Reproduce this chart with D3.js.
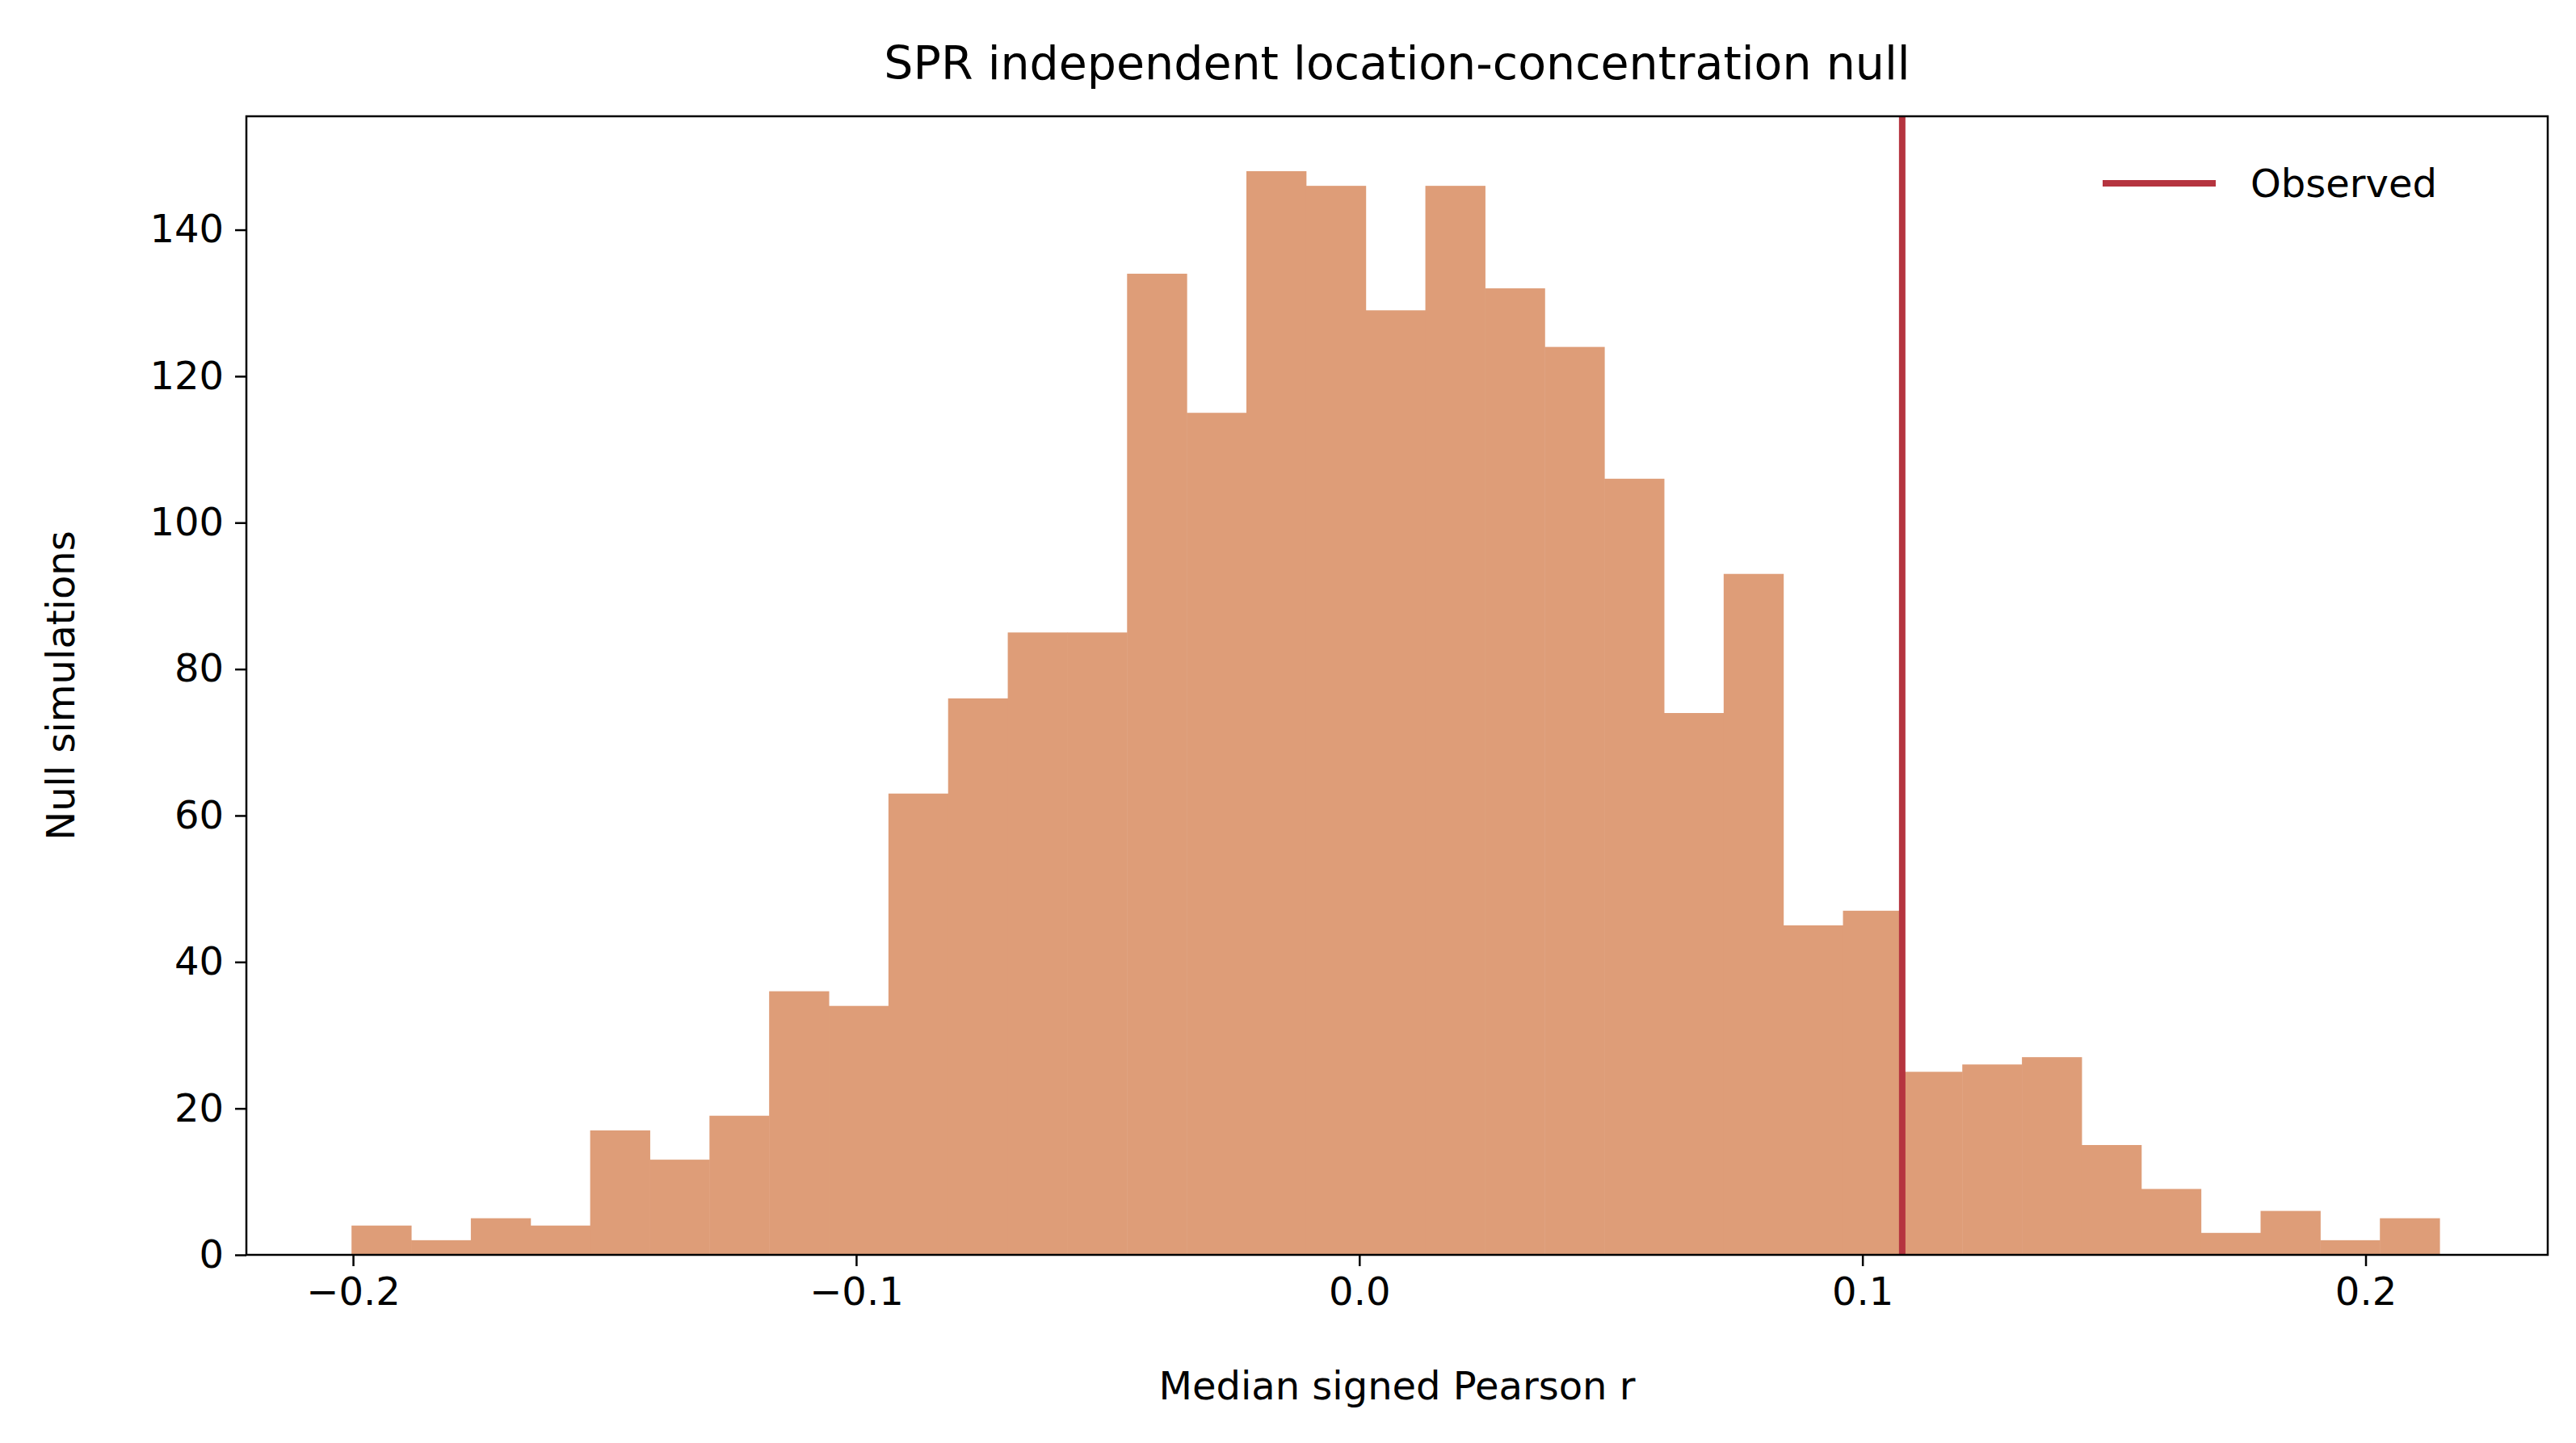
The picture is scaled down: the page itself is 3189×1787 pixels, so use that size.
<!DOCTYPE html>
<html><head><meta charset="utf-8">
<script src="https://cdn.jsdelivr.net/npm/d3@7"></script>
<style>body{margin:0;background:#fff}text{font-family:"DejaVu Sans",sans-serif;fill:#000}</style>
</head><body><div id="chart"></div>
<script>
// data
var counts = [4,2,5,4,17,13,19,36,34,63,76,85,85,134,115,148,146,129,146,132,124,106,74,93,45,47,25,26,27,15,9,3,6,2,5];
var binStart = -0.2003, binEnd = 0.2147;
var observed = 0.1079;
var xTicks = [-0.2, -0.1, 0.0, 0.1, 0.2];
var yTicks = [0, 20, 40, 60, 80, 100, 120, 140];

var W = 3189, H = 1787,
    m = { top: 144, right: 35, bottom: 233, left: 305 },
    width = W - m.left - m.right,
    height = H - m.top - m.bottom;

var svg = d3.select("#chart").append("svg").attr("width", W).attr("height", H);
var g = svg.append("g").attr("transform", "translate(" + m.left + "," + m.top + ")");

var x = d3.scaleLinear().domain([-0.2212, 0.2362]).range([0, width]);
var y = d3.scaleLinear().domain([0, 155.5]).range([height, 0]);
var bw = (binEnd - binStart) / counts.length;

g.selectAll("rect.bar").data(counts).enter().append("rect")
    .attr("class", "bar")
    .attr("x", function(d, i) { return x(binStart + i * bw); })
    .attr("width", function() { return x(binStart + bw) - x(binStart) + 0.5; })
    .attr("y", function(d) { return y(d); })
    .attr("height", function(d) { return height - y(d); })
    .attr("fill", "#de9d78");

g.append("line")
    .attr("x1", x(observed)).attr("x2", x(observed))
    .attr("y1", 0).attr("y2", height)
    .attr("stroke", "#b5343f").attr("stroke-width", 8);

var fmtX = function(d) { return d3.format(".1f")(d).replace("-", "\u2212"); };
var xAxis = g.append("g").attr("transform", "translate(0," + height + ")")
    .call(d3.axisBottom(x).tickValues(xTicks).tickFormat(fmtX).tickSize(14).tickPadding(14));
var yAxis = g.append("g")
    .call(d3.axisLeft(y).tickValues(yTicks).tickSize(14).tickPadding(14));
[xAxis, yAxis].forEach(function(a) {
    a.selectAll("text").style("font-size", "48px").style("font-family", "DejaVu Sans");
    a.selectAll("line").attr("stroke-width", 2.5);
    a.select(".domain").remove();
});

g.append("rect").attr("width", width).attr("height", height)
    .attr("fill", "none").attr("stroke", "#000").attr("stroke-width", 2.5);

svg.append("text").attr("x", m.left + width / 2).attr("y", 98)
    .attr("text-anchor", "middle").style("font-size", "57px")
    .text("SPR independent location-concentration null");
svg.append("text").attr("x", m.left + width / 2).attr("y", 1733)
    .attr("text-anchor", "middle").style("font-size", "48px")
    .text("Median signed Pearson r");
svg.append("text").attr("transform", "translate(92," + (m.top + height / 2) + ") rotate(-90)")
    .attr("text-anchor", "middle").style("font-size", "48px")
    .text("Null simulations");

// legend
var lg = g.append("g").attr("transform", "translate(2298,83)");
lg.append("line").attr("x1", 0).attr("x2", 140).attr("stroke", "#b5343f").attr("stroke-width", 8);
lg.append("text").attr("x", 183).attr("y", 17).style("font-size", "48px").text("Observed");
</script>
</body></html>
